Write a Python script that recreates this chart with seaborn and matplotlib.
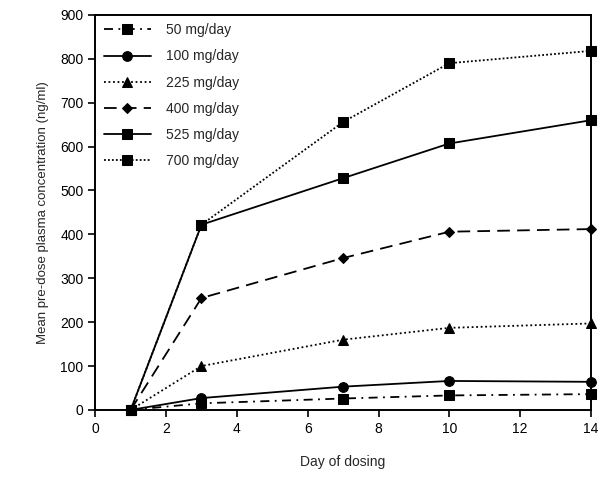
import pandas as pd
import matplotlib
matplotlib.use('Agg')
import matplotlib.pyplot as plt
import seaborn as sns

sns.set_style("ticks")
plt.rcParams['font.family'] = ['Liberation Sans', 'DejaVu Sans']

# data
days = [1, 3, 7, 10, 14]
doses = ['50 mg/day', '100 mg/day', '225 mg/day', '400 mg/day', '525 mg/day', '700 mg/day']
conc_50 = [0, 15, 26, 33, 36]
conc_100 = [0, 27, 53, 66, 64]
conc_225 = [0, 100, 160, 187, 197]
conc_400 = [0, 255, 346, 406, 412]
conc_525 = [0, 422, 528, 607, 660]
conc_700 = [0, 422, 656, 790, 818]

series = [conc_50, conc_100, conc_225, conc_400, conc_525, conc_700]
df = pd.DataFrame({
    'day': days * len(doses),
    'conc': sum(series, []),
    'dose': [d for d in doses for _ in days],
})

styles = {
    '50 mg/day': dict(ls=(0, (5, 3, 1, 3)), marker='s', ms=7),
    '100 mg/day': dict(ls='-', marker='o', ms=7),
    '225 mg/day': dict(ls=(0, (1, 1.5)), marker='^', ms=7),
    '400 mg/day': dict(ls=(0, (7, 4)), marker='D', ms=5.5),
    '525 mg/day': dict(ls='-', marker='s', ms=7),
    '700 mg/day': dict(ls=(0, (1, 1.2)), marker='s', ms=7),
}

fig = plt.figure(figsize=(6.03, 4.8), dpi=100)
ax = fig.add_axes([0.158, 0.146, 0.822, 0.823])

for dose in doses:
    st = styles[dose]
    sns.lineplot(data=df[df['dose'] == dose], x='day', y='conc', ax=ax,
                 color='black', linestyle=st['ls'], marker=st['marker'],
                 markersize=st['ms'], markeredgecolor='black', linewidth=1.3,
                 label=dose, clip_on=False, zorder=3)

ax.set_xlim(0, 14)
ax.set_ylim(0, 900)
ax.set_xticks(range(0, 15, 2))
ax.set_yticks(range(0, 901, 100))
ax.tick_params(direction='out', length=5, width=1.2, labelsize=10, colors='black')
for s in ax.spines.values():
    s.set_linewidth(1.4)
    s.set_color('black')
    s.set_visible(True)

ax.set_xlabel('Day of dosing', fontsize=10, labelpad=14)
ax.set_ylabel('Mean pre-dose plasma concentration (ng/ml)', fontsize=9.5, labelpad=8)

leg = ax.legend(loc='upper left', frameon=False, fontsize=10, handlelength=3.4,
                labelspacing=0.88, borderaxespad=0.3, borderpad=0.3,
                handletextpad=1.1)

fig.savefig('out.png', dpi=100)
